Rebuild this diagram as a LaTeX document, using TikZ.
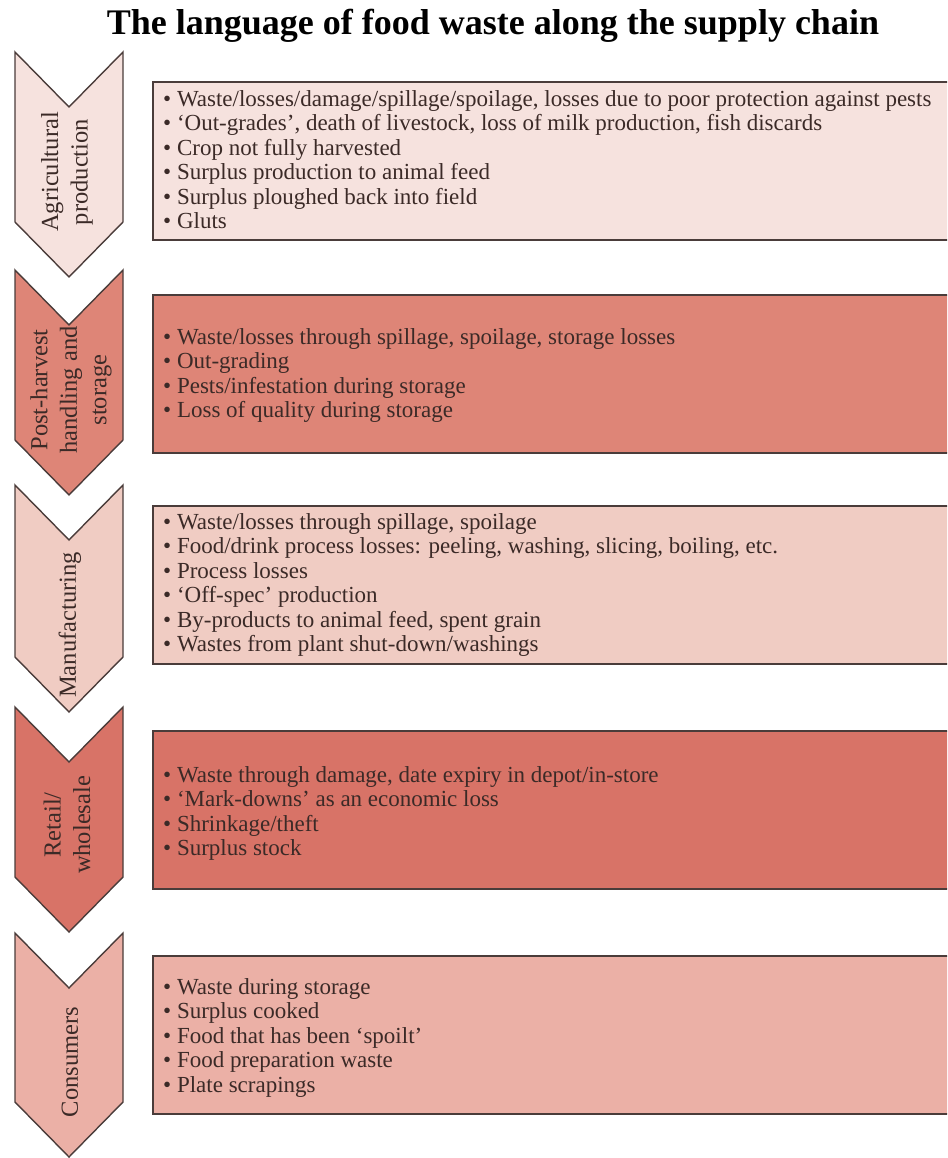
\documentclass[tikz,border=0pt]{standalone}
\usepackage{fontspec}
\setmainfont{Liberation Serif}
\usetikzlibrary{positioning}
\definecolor{agri}{HTML}{F6E2DE}
\definecolor{post}{HTML}{DE8577}
\definecolor{manu}{HTML}{F0CCC3}
\definecolor{reta}{HTML}{D87367}
\definecolor{cons}{HTML}{EBB0A6}
\definecolor{edge}{HTML}{4A3C3A}
\definecolor{ink}{HTML}{3B2A27}
\tikzset{
	chev/.style={draw=edge, line width=1.4pt, line join=miter},
	wastebox/.style={draw=edge, line width=2pt, rectangle, anchor=north west, inner sep=0pt, minimum width=830pt, minimum height=158pt},
	chevlabel/.style={rotate=90, align=center, font=\fontsize{24.5}{29.5}\selectfont, text=ink},
	itemlist/.style={align=left, font=\fontsize{23}{24.5}\selectfont, text=ink, inner sep=0pt}
}
\begin{document}
\begin{tikzpicture}[x=1pt, y=-1pt]
				\useasboundingbox (0,0) rectangle (947,1158);
				\clip (0,0) rectangle (947,1158);
				\node[font=\bfseries\fontsize{36}{40}\selectfont] (title) at (493,26) {The language of food waste along the supply chain};
				\draw[chev, fill=agri] (15,52) -- (69,107) -- (123,52) -- (123,222) -- (69,277) -- (15,222) -- cycle;
				\draw[chev, fill=post] (15,270) -- (69,325) -- (123,270) -- (123,440) -- (69,495) -- (15,440) -- cycle;
				\draw[chev, fill=manu] (15,485) -- (69,540) -- (123,485) -- (123,657) -- (69,712) -- (15,657) -- cycle;
				\draw[chev, fill=reta] (15,707) -- (69,762) -- (123,707) -- (123,877) -- (69,932) -- (15,877) -- cycle;
				\draw[chev, fill=cons] (15,933) -- (69,988) -- (123,933) -- (123,1102) -- (69,1157) -- (15,1102) -- cycle;
				\node[chevlabel] (agrilabel) at (67,172) {Agricultural\\production};
				\node[chevlabel] (postlabel) at (71,390) {Post-harvest\\handling and\\storage};
				\node[chevlabel] (manulabel) at (70,625) {Manufacturing};
				\node[chevlabel] (retalabel) at (67,825) {Retail/\\wholesale};
				\node[chevlabel] (conslabel) at (70,1062) {Consumers};
				\node[wastebox, fill=agri] (agribox) at (152,81) {};
				\node[wastebox, fill=post] (postbox) at (152,294) {};
				\node[wastebox, fill=manu] (manubox) at (152,505) {};
				\node[wastebox, fill=reta] (retabox) at (152,730) {};
				\node[wastebox, fill=cons] (consbox) at (152,955) {};
				\node[itemlist, below right=9pt and 11pt of agribox.north west] (agrilist) {%
					• Waste/losses/damage/spillage/spoilage, losses due to poor protection against pests\\
					• `Out-grades', death of livestock, loss of milk production, fish discards\\
					• Crop not fully harvested\\
					• Surplus production to animal feed\\
					• Surplus ploughed back into field\\
					• Gluts};
				\node[itemlist, below right=34pt and 11pt of postbox.north west] (postlist) {%
					• Waste/losses through spillage, spoilage, storage losses\\
					• Out-grading\\
					• Pests/infestation during storage\\
					• Loss of quality during storage};
				\node[itemlist, below right=8pt and 11pt of manubox.north west] (manulist) {%
					• Waste/losses through spillage, spoilage\\
					• Food/drink process losses: peeling, washing, slicing, boiling, etc.\\
					• Process losses\\
					• `Off-spec' production\\
					• By-products to animal feed, spent grain\\
					• Wastes from plant shut-down/washings};
				\node[itemlist, below right=36pt and 11pt of retabox.north west] (retalist) {%
					• Waste through damage, date expiry in depot/in-store\\
					• `Mark-downs' as an economic loss\\
					• Shrinkage/theft\\
					• Surplus stock};
				\node[itemlist, below right=23pt and 11pt of consbox.north west] (conslist) {%
					• Waste during storage\\
					• Surplus cooked\\
					• Food that has been `spoilt'\\
					• Food preparation waste\\
					• Plate scrapings};
\end{tikzpicture}
\end{document}
